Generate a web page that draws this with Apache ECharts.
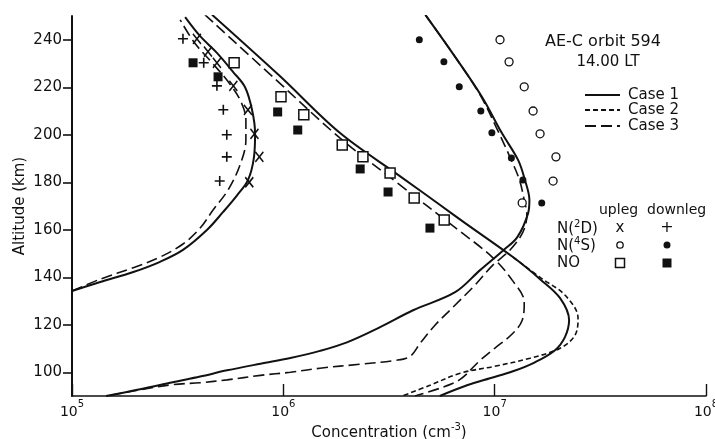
<!DOCTYPE html>
<html>
<head>
<meta charset="utf-8">
<script src="https://cdn.jsdelivr.net/npm/echarts@6/dist/echarts.min.js"></script>
<style>
  html, body { margin: 0; padding: 0; background: #fff; }
  #chart { width: 715px; height: 439px; }
</style>
</head>
<body>
<div id="chart"></div>
<script>
// Model density profiles, [concentration (cm^-3), altitude (km)]
const n2dCase1 = [
  [1.0e5, 134.2], [1.36e5, 138], [1.95e5, 142.2], [2.61e5, 146.5], [3.35e5, 151.5],
  [4.36e5, 160], [5.19e5, 167.5], [6.04e5, 174.5], [6.81e5, 181], [7.26e5, 190.5],
  [7.35e5, 200.5], [7.11e5, 210.5], [6.59e5, 220], [5.78e5, 226.5], [4.85e5, 234.5],
  [4.04e5, 241.5], [3.43e5, 249.5]
];
const n2dCase3 = [
  [1.0e5, 134.2], [1.36e5, 139.2], [1.95e5, 144], [2.61e5, 148.5], [3.35e5, 154],
  [4.04e5, 160.7], [4.65e5, 168.3], [5.47e5, 176.7], [6.24e5, 187.3], [6.65e5, 197.8],
  [6.65e5, 206.3], [6.24e5, 214.7], [5.45e5, 222.6], [4.55e5, 230.8], [3.80e5, 238.7],
  [3.25e5, 248.4]
];
const noCase1 = [
  [4.6e5, 250.5], [9.6e5, 224.8], [1.85e6, 200.8], [3.56e6, 182.6], [5.52e6, 170.4],
  [7.25e6, 162.8], [1.22e7, 148.5], [1.64e7, 139.2], [2.04e7, 131.2], [2.25e7, 121.9],
  [2.15e7, 114.8], [1.93e7, 109.3], [1.55e7, 104.2], [1.22e7, 100.4], [9.5e6, 97.5],
  [7.4e6, 94.5], [5.5e6, 90]
];
const noCase2 = [
  [1.22e7, 148.5], [1.66e7, 139.6], [2.15e7, 132.5], [2.48e7, 122.8], [2.40e7, 115.6],
  [2.04e7, 110.1], [1.47e7, 105.9], [1.0e7, 102.5], [6.86e6, 99.6], [4.94e6, 94.5],
  [3.65e6, 90]
];
const noCase3 = [
  [4.26e5, 250.5], [9.14e5, 223.5], [1.85e6, 198.7], [3.56e6, 178.9], [6.35e6, 161.6],
  [9.73e6, 148.5], [1.21e7, 138.8], [1.38e7, 129.5], [1.35e7, 121.9], [1.22e7, 116.4],
  [1.0e7, 110.1], [8.53e6, 105], [6.86e6, 97], [5.52e6, 93.3], [4.2e6, 90]
];
const n4sCase1 = [
  [4.7e6, 250.5], [6.5e6, 232.8], [8.7e6, 216], [1.08e7, 200.8], [1.29e7, 189.4],
  [1.39e7, 181], [1.46e7, 172.5], [1.44e7, 167], [1.28e7, 156.9], [1.10e7, 151.4],
  [8.53e6, 143], [6.5e6, 133.7], [4.11e6, 126.1], [2.87e6, 119], [2.0e6, 112.6],
  [1.49e6, 109.0], [1.08e6, 106.0], [7.8e5, 103.6], [5.42e5, 100.8], [4.04e5, 98.2],
  [3.0e5, 95.8], [2.1e5, 92.8], [1.45e5, 90]
];
const n4sCase3 = [
  [4.7e6, 250.5], [6.5e6, 232.8], [8.53e6, 216.8], [1.02e7, 202.9], [1.18e7, 190.7],
  [1.31e7, 181], [1.38e7, 172.5], [1.42e7, 166.2], [1.36e7, 159], [1.18e7, 151.4],
  [9.8e6, 145.1], [8.07e6, 136.7], [6.35e6, 127.4], [5.22e6, 119.8], [4.44e6, 112.2],
  [3.98e6, 106.7], [3.38e6, 105], [2.31e6, 103.4], [1.49e6, 101.7], [1.08e6, 100],
  [7.8e5, 98.7], [5.42e5, 96.8], [4.04e5, 95.6], [3.0e5, 94.8], [2.1e5, 92.6], [1.45e5, 90]
];

// AE-C measurements, [concentration (cm^-3), altitude (km)]
const n2dUpleg = [
  [3.9e5, 240.4], [4.4e5, 235], [4.85e5, 230.3], [5.8e5, 220.6], [6.8e5, 210.5],
  [7.3e5, 200.4], [7.7e5, 190.7], [6.9e5, 180]
];
const n2dDownleg = [
  [3.35e5, 240.4], [4.2e5, 230.3], [4.85e5, 220.6], [5.2e5, 210.5], [5.4e5, 200],
  [5.4e5, 190.7], [5.0e5, 180.5]
];
const n4sUpleg = [
  [1.06e7, 240], [1.17e7, 230.7], [1.38e7, 220.2], [1.52e7, 210], [1.64e7, 200.4],
  [1.95e7, 190.7], [1.89e7, 180.5], [1.35e7, 171.3]
];
const n4sDownleg = [
  [4.4e6, 240], [5.75e6, 230.7], [6.8e6, 220.2], [8.6e6, 210], [9.7e6, 200.8],
  [1.2e7, 190.2], [1.36e7, 181], [1.67e7, 171.3]
];
const noUpleg = [
  [5.85e5, 230.3], [9.75e5, 216], [1.25e6, 208.4], [1.9e6, 195.7], [2.38e6, 190.7],
  [3.2e6, 183.9], [4.16e6, 173.4], [5.77e6, 164.1]
];
const noDownleg = [
  [3.74e5, 230.3], [4.91e5, 224.4], [9.4e5, 209.6], [1.17e6, 202], [2.31e6, 185.6],
  [3.13e6, 175.9], [4.94e6, 160.7]
];

const altitudeTicks = [100, 120, 140, 160, 180, 200, 220, 240];
const caseNames = ['Case 1', 'Case 2', 'Case 3'];

const INK = '#111';
const FONT = 'DejaVu Sans';
const DASH_SHORT = [5, 3];
const DASH_LONG = [11, 5];

// rich-text styles for "base + raised small" labels such as 10^5
function supRich(baseSize, supSize, lift) {
  return {
    b: { fontSize: baseSize, fontFamily: FONT, color: INK, verticalAlign: 'bottom' },
    s: { fontSize: supSize, fontFamily: FONT, color: INK, verticalAlign: 'bottom', padding: [0, 0, lift, 0] }
  };
}

function profile(name, data, dash) {
  return {
    name: name, type: 'line', data: data, smooth: 0.35, symbol: 'none',
    lineStyle: { color: INK, width: dash ? 1.6 : 2, type: dash || 'solid' },
    z: 2, silent: true
  };
}
const crossPath = 'path://M0,0L8,10M8,0L0,10';
const plusPath = 'path://M5,0L5,10M0,5L10,5';
function points(name, data, symbol, size, filled, borderWidth) {
  return {
    name: name, type: 'scatter', data: data, symbol: symbol, symbolSize: size,
    itemStyle: {
      color: filled ? INK : '#fff', borderColor: INK, borderWidth: borderWidth,
      opacity: 1
    },
    z: 3, silent: true
  };
}

const chart = echarts.init(document.getElementById('chart'), null, { renderer: 'canvas' });

const legendGraphics = [];
caseNames.forEach(function (nm, i) {
  const y = [95, 110, 126][i];
  const dash = [null, DASH_SHORT, DASH_LONG][i];
  legendGraphics.push({
    type: 'line', shape: { x1: 585, y1: y, x2: 620, y2: y },
    style: { stroke: INK, lineWidth: 2, lineDash: dash }
  });
  legendGraphics.push({
    type: 'text', x: 628, y: y,
    style: { text: nm, font: '15px ' + FONT, fill: INK, verticalAlign: 'middle' }
  });
});

chart.setOption({
  backgroundColor: '#fff',
  animation: false,
  textStyle: { fontFamily: FONT, color: INK },
  grid: { left: 72, right: 9, top: 16, bottom: 43, containLabel: false, outerBoundsMode: 'none' },
  xAxis: {
    type: 'log', logBase: 10, min: 1e5, max: 1e8,
    name: '{b|Concentration (cm}{s|-3}{b|)}',
    nameLocation: 'middle', nameGap: 26, nameMoveOverlap: false,
    nameTextStyle: { fontSize: 15, color: INK, fontFamily: FONT, rich: supRich(15, 10, 9) },
    axisLine: { show: true, lineStyle: { color: INK, width: 1.6 } },
    axisTick: { show: true, inside: true, length: 12, lineStyle: { color: INK, width: 1.4 } },
    minorTick: { show: false },
    splitLine: { show: false },
    axisLabel: {
      color: INK, fontSize: 14, margin: 3, fontFamily: FONT,
      formatter: function (v) {
        return '{b|10}{s|' + Math.round(Math.log10(v)) + '}';
      },
      rich: supRich(14, 10, 10)
    }
  },
  yAxis: {
    type: 'value', min: 90, max: 250,
    name: 'Altitude (km)', nameLocation: 'middle', nameGap: 44, nameRotate: 90,
    nameMoveOverlap: false,
    nameTextStyle: { fontSize: 15, color: INK, fontFamily: FONT },
    axisLine: { show: true, lineStyle: { color: INK, width: 2 } },
    axisTick: { show: true, length: 9, customValues: altitudeTicks, lineStyle: { color: INK, width: 1.6 } },
    axisLabel: { color: INK, fontSize: 15, margin: 10, customValues: altitudeTicks, fontFamily: FONT },
    splitLine: { show: false }
  },
  graphic: [
    { type: 'text', x: 603, y: 42,
      style: { text: 'AE-C orbit 594', font: '16px ' + FONT, fill: INK, align: 'center', verticalAlign: 'middle' } },
    { type: 'text', x: 608, y: 62,
      style: { text: '14.00 LT', font: '15px ' + FONT, fill: INK, align: 'center', verticalAlign: 'middle' } },
    { type: 'text', x: 599, y: 210,
      style: { text: 'upleg  downleg', font: '14px ' + FONT, fill: INK, verticalAlign: 'middle' } },
    { type: 'text', x: 557, y: 237,
      style: { text: '{b|N(}{s|2}{b|D)}', fill: INK, verticalAlign: 'bottom',
        rich: supRich(15, 10, 8) } },
    { type: 'text', x: 557, y: 254,
      style: { text: '{b|N(}{s|4}{b|S)}', fill: INK, verticalAlign: 'bottom',
        rich: supRich(15, 10, 8) } },
    { type: 'text', x: 557, y: 263,
      style: { text: 'NO', font: '15px ' + FONT, fill: INK, verticalAlign: 'middle' } },
    { type: 'text', x: 620, y: 228,
      style: { text: 'x', font: '15px ' + FONT, fill: INK, align: 'center', verticalAlign: 'middle' } },
    { type: 'text', x: 667, y: 228,
      style: { text: '+', font: '16px ' + FONT, fill: INK, align: 'center', verticalAlign: 'middle' } },
    { type: 'circle', shape: { cx: 620, cy: 245, r: 3.2 }, style: { fill: '#fff', stroke: INK, lineWidth: 1.3 } },
    { type: 'circle', shape: { cx: 667, cy: 245, r: 3.5 }, style: { fill: INK } },
    { type: 'rect', shape: { x: 615.5, y: 258.5, width: 9, height: 9 }, style: { fill: '#fff', stroke: INK, lineWidth: 1.5 } },
    { type: 'rect', shape: { x: 662.5, y: 258.5, width: 9, height: 9 }, style: { fill: INK } }
  ].concat(legendGraphics),
  series: [
    profile('N(2D) Case 1', n2dCase1),
    profile('N(2D) Case 3', n2dCase3, DASH_LONG),
    profile('NO Case 1', noCase1),
    profile('NO Case 2', noCase2, DASH_SHORT),
    profile('NO Case 3', noCase3, DASH_LONG),
    profile('N(4S) Case 1', n4sCase1),
    profile('N(4S) Case 3', n4sCase3, DASH_LONG),
    points('N(2D) upleg', n2dUpleg, crossPath, [8, 10], false, 1.6),
    points('N(2D) downleg', n2dDownleg, plusPath, 10, false, 1.6),
    points('N(4S) upleg', n4sUpleg, 'circle', 8, false, 1.3),
    points('N(4S) downleg', n4sDownleg, 'circle', 7, true, 0),
    points('NO upleg', noUpleg, 'rect', 10, false, 1.5),
    points('NO downleg', noDownleg, 'rect', 9, true, 0)
  ]
});
</script>
</body>
</html>
